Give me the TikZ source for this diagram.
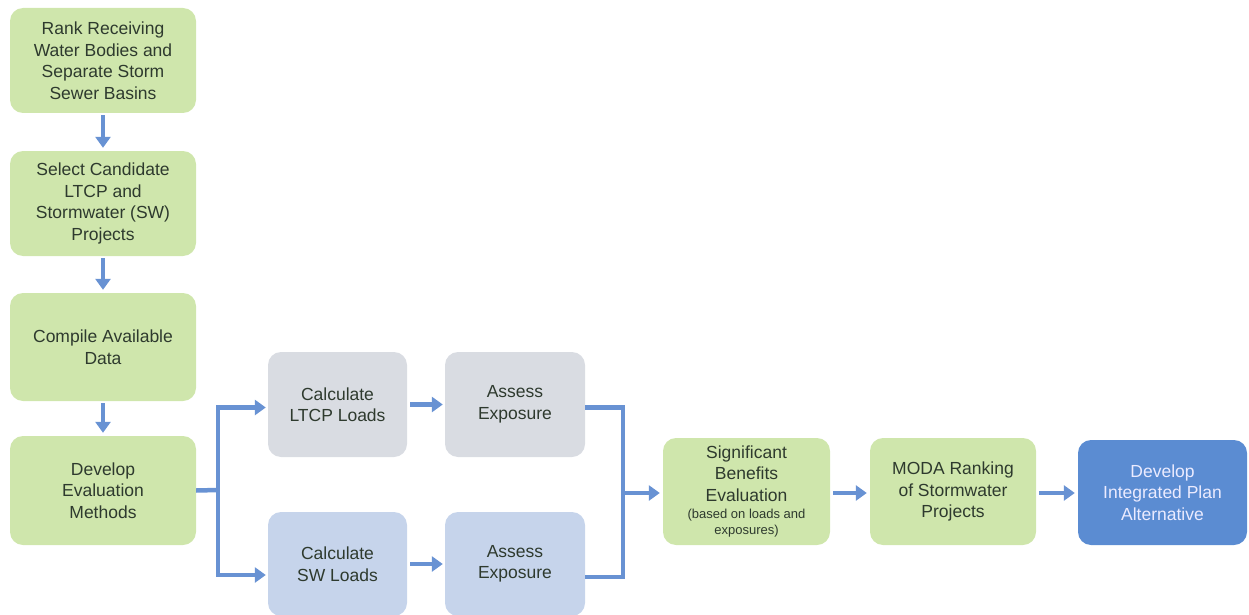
\documentclass[tikz,border=0pt]{standalone}
\usepackage{fontspec}
\setmainfont{Liberation Sans}
\usetikzlibrary{arrows.meta}
\definecolor{gfill}{HTML}{CFE6AC}
\definecolor{grayfill}{HTML}{D9DCE2}
\definecolor{lbfill}{HTML}{C6D4EB}
\definecolor{dbfill}{HTML}{5B8CD2}
\definecolor{arrc}{HTML}{6892D3}
\definecolor{txt}{HTML}{2E3A2E}
\tikzset{
  box/.style={rectangle, rounded corners=13pt, draw=none, align=center, text=txt,
    font=\fontsize{17.5}{21.5}\selectfont, inner sep=1pt},
  gbox/.style={box, fill=gfill, minimum width=186pt},
  small/.style={font=\fontsize{13}{14.5}\selectfont},
  link/.style={draw=arrc, line width=4.5pt},
  arr/.style={link, -{Triangle[length=11pt,width=15pt]}},
}
\begin{document}
\begin{tikzpicture}[x=1pt,y=-1pt]
\useasboundingbox (0,0) rectangle (1249,615);
\node[gbox, minimum height=105pt] (b1) at (103,60.5) {Rank Receiving\\Water Bodies and\\Separate Storm\\Sewer Basins};
\node[gbox, minimum height=105pt] (b2) at (103,203.5) {Select Candidate\\LTCP and\\Stormwater (SW)\\Projects};
\node[gbox, minimum height=108pt] (b3) at (103,347) {Compile Available\\Data};
\node[gbox, minimum height=109pt] (b4) at (103,490.5) {Develop\\Evaluation\\Methods};
\node[box, fill=grayfill, minimum width=139pt, minimum height=105pt] (ltcp) at (337.5,404.5) {Calculate\\LTCP Loads};
\node[box, fill=grayfill, minimum width=140pt, minimum height=105pt] (aet) at (515,404.5) {Assess\\Exposure};
\node[box, fill=lbfill, minimum width=139pt, minimum height=104pt] (sw) at (337.5,564) {Calculate\\SW Loads};
\node[box, fill=lbfill, minimum width=140pt, minimum height=104pt] (aeb) at (515,564) {Assess\\Exposure};
\node[box, fill=gfill, minimum width=167pt, minimum height=107pt] (sig) at (746.5,491.5) {Significant\\Benefits\\Evaluation\\[-4pt]{\fontsize{13}{14.5}\selectfont (based on loads and}\\[-6pt]{\fontsize{13}{14.5}\selectfont exposures)}};
\node[gbox, minimum width=166pt, minimum height=107pt] (moda) at (953,491.5) {MODA Ranking\\of Stormwater\\Projects};
\node[box, fill=dbfill, text=white!92!blue, minimum width=169pt, minimum height=105pt] (dev) at (1162.5,492.5) {Develop\\Integrated Plan\\Alternative};
% vertical arrows
\draw[arr, shorten <=2pt, shorten >=3pt] (b1.south) -- (b2.north);
\draw[arr, shorten <=2pt, shorten >=3pt] (b2.south) -- (b3.north);
\draw[arr, shorten <=2pt, shorten >=3pt] (b3.south) -- (b4.north);
% branch
\coordinate (j) at (218,490);
\draw[link] (b4.east) -- (j);
\draw[arr, shorten >=2pt] (j) |- ([yshift=-3pt]ltcp.west);
\draw[arr, shorten >=2pt] (j) |- ([yshift=-11pt]sw.west);
\draw[arr, shorten <=3pt, shorten >=2pt] (ltcp.east) -- (aet.west);
\draw[arr, shorten <=3pt, shorten >=2pt] (sw.east) -- (aeb.west);
% join
\coordinate (k) at (623,493);
\draw[link] ([yshift=-3pt]aet.east) -| (k);
\draw[link] ([yshift=-13pt]aeb.east) -| (k);
\draw[arr, shorten >=3pt] (k) -- (sig.west|-k);
\draw[arr, shorten <=3pt, shorten >=3pt] (sig.east|-k) -- (moda.west|-k);
\draw[arr, shorten <=3pt, shorten >=3pt] (moda.east|-k) -- (dev.west|-k);
\end{tikzpicture}
\end{document}
